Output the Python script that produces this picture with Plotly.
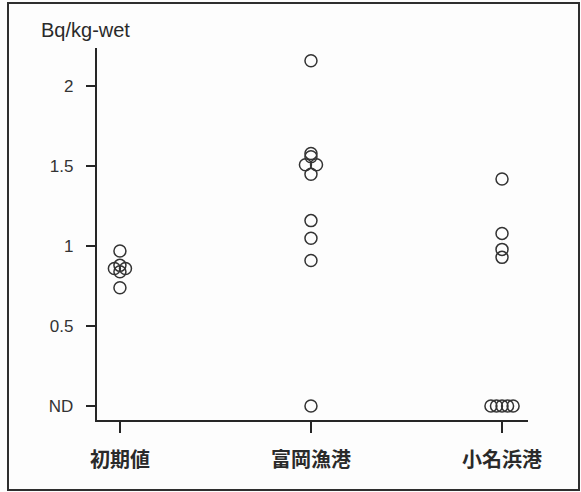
import plotly.graph_objects as go

# Sampling sites (x categories)
sites = ["初期値", "富岡漁港", "小名浜港"]

# Measured concentrations (Bq/kg-wet); 0 = not detected (ND)
initial_vals = [0.97, 0.88, 0.86, 0.86, 0.84, 0.74]
tomioka_vals = [2.16, 1.58, 1.56, 1.51, 1.51, 1.45, 1.16, 1.05, 0.91, 0.0]
onahama_vals = [1.42, 1.08, 0.98, 0.93, 0.0, 0.0, 0.0, 0.0, 0.0]

# Horizontal spread slots for tied values
initial_slots = [0, 0, -1, 1, 0, 0]
tomioka_slots = [0, 0, 0, -1, 1, 0, 0, 0, 0, 0]
onahama_slots = [0, 0, 0, 0, -2, -1, 0, 1, 2]

# Y-axis ticks
y_tickvals = [0, 0.5, 1, 1.5, 2]
y_ticktext = ["ND", "0.5", "1", "1.5", "2"]

JITTER = 0.029
W, H = 581, 492
L, R, T, B = 97, 53, 48, 72

fig = go.Figure()
groups = [(initial_vals, initial_slots), (tomioka_vals, tomioka_slots), (onahama_vals, onahama_slots)]
for i, (vals, slots) in enumerate(groups):
    fig.add_trace(go.Scatter(
        x=[i + 1 + s * JITTER for s in slots],
        y=vals,
        mode="markers",
        marker=dict(symbol="circle-open", size=12, color="#333333", line=dict(width=1.5, color="#333333")),
        showlegend=False,
        hoverinfo="skip",
    ))

pw, ph = W - L - R, H - T - B

fig.update_layout(
    width=W, height=H,
    margin=dict(l=L, r=R, t=T, b=B, pad=0),
    paper_bgcolor="#fdfdfd",
    plot_bgcolor="#fdfdfd",
    xaxis=dict(
        range=[0.88, 3.136],
        tickvals=[1, 2, 3], ticktext=sites,
        showline=True, linecolor="#262626", linewidth=2.4,
        ticks="outside", ticklen=11, tickwidth=1.5, tickcolor="#262626",
        ticklabelstandoff=10,
        tickfont=dict(family="Noto Sans CJK JP", size=20, color="#2a2a2a", weight="bold"),
        showgrid=False, zeroline=False, fixedrange=True,
    ),
    yaxis=dict(
        range=[-0.0875, 2.24],
        tickvals=y_tickvals, ticktext=y_ticktext,
        showline=True, linecolor="#262626", linewidth=2.4,
        ticks="outside", ticklen=9, tickwidth=1.5, tickcolor="#262626",
        ticklabelstandoff=9,
        tickfont=dict(family="Liberation Sans, Arial", size=17, color="#333333"),
        showgrid=False, zeroline=False, fixedrange=True,
    ),
    annotations=[dict(
        text="Bq/kg-wet", xref="paper", yref="paper",
        x=(39 - L) / pw, y=(H - B - 30) / ph,
        xanchor="left", yanchor="middle", showarrow=False,
        font=dict(family="Liberation Sans, Arial", size=20, color="#2a2a2a"),
    )],
    shapes=[dict(
        type="rect", xref="paper", yref="paper",
        x0=(8 - L) / pw, x1=(579 - L) / pw,
        y0=(H - B - 490) / ph, y1=(H - B - 3) / ph,
        line=dict(color="#2e2e2e", width=2), fillcolor="rgba(0,0,0,0)", layer="below",
    )],
)

fig.write_html("out.html", config={"displayModeBar": False})
